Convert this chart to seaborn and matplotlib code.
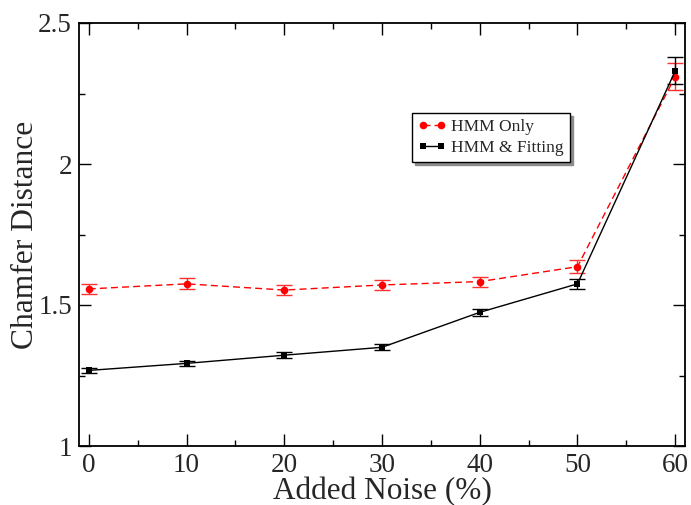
import matplotlib
matplotlib.use("Agg")
import matplotlib.pyplot as plt
import seaborn as sns
import pandas as pd
from matplotlib.ticker import MultipleLocator

noise = [0, 10, 20, 30, 40, 50, 60]
hmm_only = [1.557, 1.575, 1.553, 1.571, 1.583, 1.636, 2.310]
hmm_only_err = [0.018, 0.020, 0.018, 0.018, 0.018, 0.022, 0.048]
hmm_fit = [1.268, 1.293, 1.322, 1.350, 1.474, 1.575, 2.330]
hmm_fit_err = [0.010, 0.010, 0.010, 0.010, 0.012, 0.018, 0.048]
labels = ["HMM Only", "HMM & Fitting"]

sns.set_theme(style="ticks")
plt.rcParams["font.family"] = ["Liberation Serif", "DejaVu Serif"]

fig = plt.figure(figsize=(6.91, 5.05), dpi=100)
ax = fig.add_axes([79/691, 1-446/505, (685-79)/691, (446-23)/505])

df = pd.DataFrame({"noise": noise * 2,
                   "dist": hmm_only + hmm_fit,
                   "series": [labels[0]] * 7 + [labels[1]] * 7})

# error bars
ax.errorbar(noise, hmm_only, yerr=hmm_only_err, fmt="none", ecolor="#ff3030",
            elinewidth=1.0, capsize=6, capthick=1.0, zorder=2)
ax.errorbar(noise, hmm_fit, yerr=hmm_fit_err, fmt="none", ecolor="black",
            elinewidth=1.0, capsize=6, capthick=1.0, zorder=2)

sns.lineplot(data=df[df.series == labels[0]], x="noise", y="dist", ax=ax,
             color="red", linewidth=1.0, marker="o", markersize=5.5,
             markeredgewidth=0, label=labels[0], zorder=3)
sns.lineplot(data=df[df.series == labels[1]], x="noise", y="dist", ax=ax,
             color="black", linewidth=1.0, marker="s", markersize=5,
             markeredgewidth=0, label=labels[1], zorder=3)
for ln in ax.get_lines():
    if ln.get_label() == labels[0]:
        ln.set_linestyle((0, (5, 3)))

ax.set_xlim(-1, 61)
ax.set_ylim(1, 2.5)
ax.xaxis.set_major_locator(MultipleLocator(10))
ax.xaxis.set_minor_locator(MultipleLocator(5))
ax.yaxis.set_minor_locator(MultipleLocator(0.25))
ax.set_yticks([1, 1.5, 2, 2.5])
ax.set_yticklabels(["1", "1.5", "2", "2.5"])

ax.tick_params(which="both", direction="in", top=True, right=True,
               labelsize=19.5, color="black", width=1.0)
ax.tick_params(which="major", length=8.6)
ax.tick_params(axis="x", which="major", pad=5)
ax.tick_params(axis="y", which="major", pad=5)
ax.tick_params(which="minor", length=4.3)
for sp in ax.spines.values():
    sp.set_linewidth(1.3)
    sp.set_color("black")

ax.set_xlabel("Added Noise (%)", fontsize=22.5)
ax.set_ylabel("Chamfer Distance", fontsize=22.7)
ax.xaxis.set_label_coords(0.5, -(477 - 446) / 423)
ax.yaxis.set_label_coords(-(79 - 40) / 606, 0.5)

leg = ax.legend(loc="upper left", bbox_to_anchor=((412-79)/606, (446-113)/423),
                frameon=True, fancybox=False, shadow={"color": "0.55", "alpha": 1.0},
                fontsize=12.5, handlelength=1.6, numpoints=2, borderpad=0.35,
                handletextpad=0.3, labelspacing=0.25, borderaxespad=0)
leg.get_frame().set_edgecolor("black")
leg.get_frame().set_linewidth(1.0)

fig.savefig("out.png", dpi=100)
